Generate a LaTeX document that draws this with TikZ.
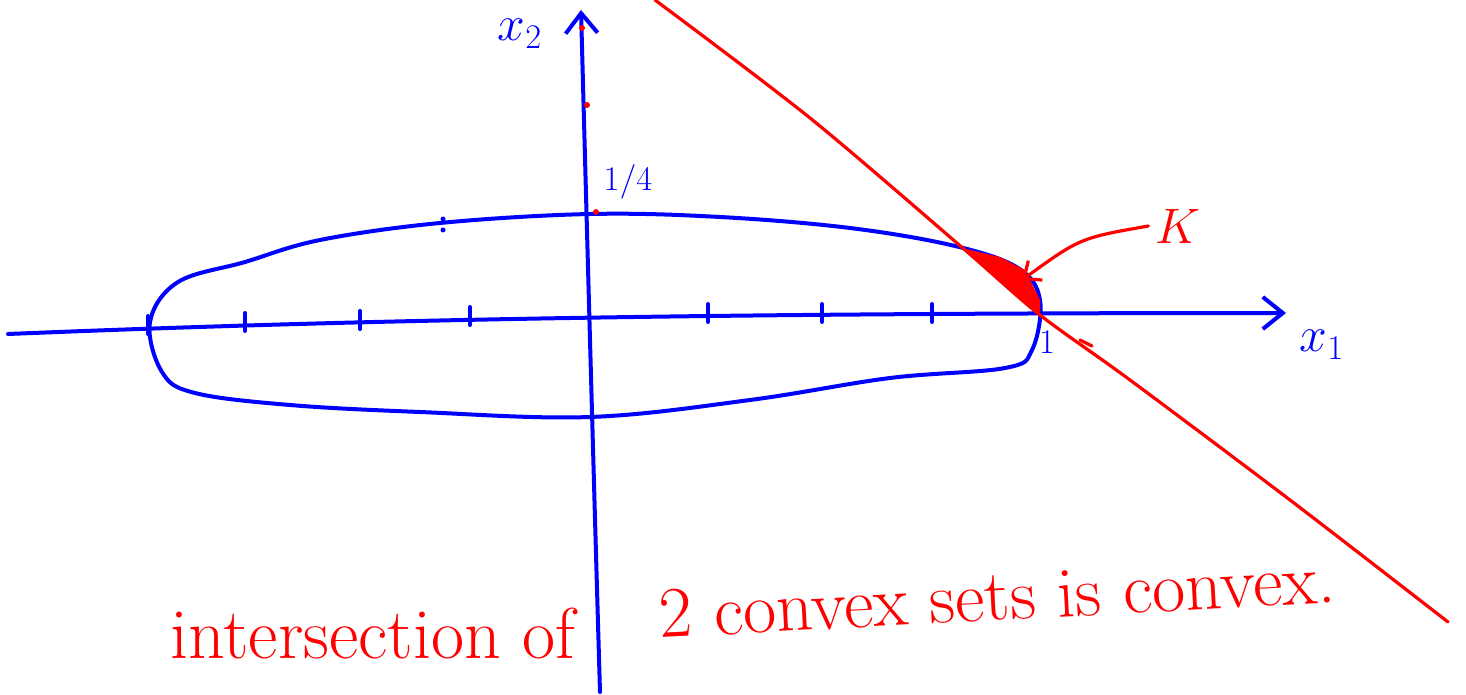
\documentclass[tikz,border=0pt]{standalone}
\usepackage{amsmath}
\usepackage{tikz}
\usetikzlibrary{arrows.meta,calc}
\tikzset{
  ejes/.style={blue,line width=2pt,line cap=round,line join=round,-{Straight Barb[length=10pt,width=16pt,line width=2pt]}},
  conj/.style={blue,line width=2pt,line cap=round,line join=round},
  recta/.style={red,line width=1.6pt,line cap=round,line join=round},
  marca/.style={blue,line width=2pt,line cap=round},
  rotulo/.style={text=blue,inner sep=0pt,font=\fontsize{26}{30}\selectfont},
  nota/.style={text=red,font=\fontsize{36}{43}\selectfont,inner sep=0pt}
}
\begin{document}
\begin{tikzpicture}[x=0.5pt,y=-0.5pt]
\useasboundingbox (0,0) rectangle (1466,695);
% axes
\coordinate (xa) at (8,334); \coordinate (xb) at (1286,313);
\coordinate (ya) at (600,692); \coordinate (yb) at (581,10);
\draw[ejes] (xa) .. controls (350,320) and (700,313) .. (xb);
\draw[ejes] (ya) .. controls (592,420) and (584,120) .. (yb);
\foreach \x/\y in {148/325,245/322,360/320,470/316,708/313,822/313,932/313}
  {\draw[marca] ({\x},{\y-9}) -- ({\x},{\y+9});}
\node[rotulo] (lx2) at (520,34) {$x_2$};
\node[rotulo] (lx1) at (1322,345) {$x_1$};
\node[rotulo,font=\LARGE] (cuarto) at (628,182) {$1/4$};
\node[rotulo,font=\LARGE] (uno) at (1047,342) {$1$};
% the ellipse-like set
\draw[conj] plot[smooth cycle,tension=0.6] coordinates {(150,322) (178,282) (245,262)
  (320,240) (440,223) (590,214) (720,217) (850,228) (955,246) (1018,268) (1040,300)
  (1032,350) (1005,368) (890,378) (750,400) (590,417) (420,412) (290,405) (195,393) (162,372)};
\fill[blue] (443,219) circle (2.5) (443,230) circle (2.5);
% the half plane
\draw[recta] plot[smooth] coordinates {(655,0) (810,118) (965,250) (1040,315)
  (1130,380) (1290,500) (1448,622)};
\fill[red] (962,248) -- (1000,257) -- (1025,270) -- (1040,300) -- (1040,316) -- cycle;
\draw[recta] (1080,340) -- (1092,346);
\fill[red] (582,28) circle (3) (587,105) circle (3) (596,212) circle (3);
\node[text=red,font=\Huge] (K) at (1178,226) {$K$};
\coordinate (Kp) at (1022,280);
\draw[recta,-{Straight Barb[length=7pt,width=12pt,line width=1.6pt]}] (K.west) .. controls (1080,238) .. (Kp);
% statement
\node[nota,anchor=base west] (n1) at (170,658) {intersection of};
\node[nota,anchor=base west,rotate=3] (n2) at (660,638) {2 convex sets is convex.};
\end{tikzpicture}
\end{document}
